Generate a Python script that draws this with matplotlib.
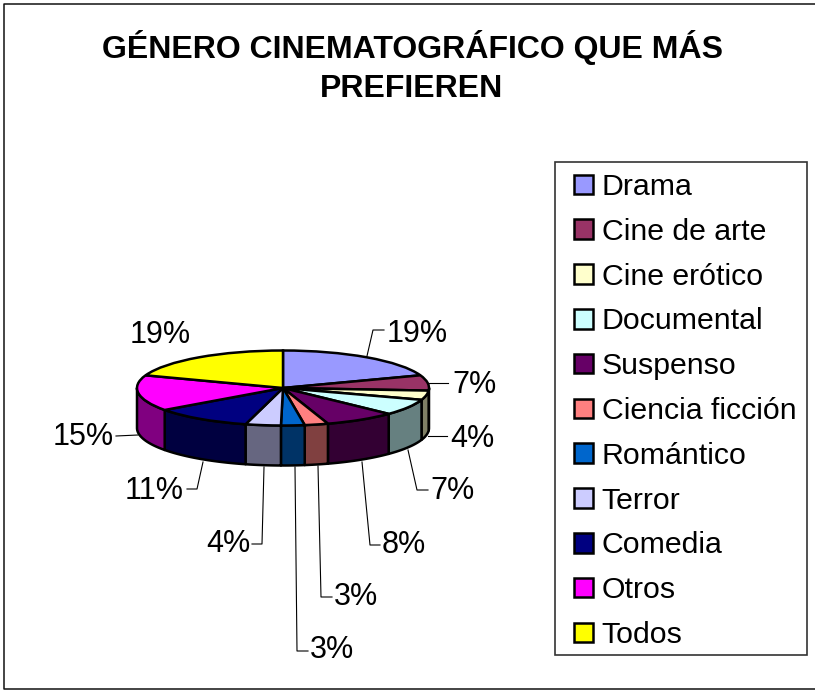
import numpy as np
import matplotlib
matplotlib.use('Agg')
import matplotlib.pyplot as plt
from matplotlib.colors import to_rgb
from matplotlib.patches import Rectangle

plt.rcParams['font.family'] = ['Liberation Sans', 'DejaVu Sans']

# datos
generos = ['Drama', 'Cine de arte', 'Cine erótico', 'Documental', 'Suspenso', 'Ciencia ficción',
           'Romántico', 'Terror', 'Comedia', 'Otros', 'Todos']
valores = [19.49, 6.6, 4.0, 7.0, 7.9, 2.6, 2.6, 3.9, 10.9, 15.45, 19.49]
colores = ['#9999FF', '#993366', '#FFFFCC', '#CCFFFF', '#660066', '#FF8080',
           '#0066CC', '#CCCCFF', '#000080', '#FF00FF', '#FFFF00']
titulo = 'GÉNERO CINEMATOGRÁFICO QUE MÁS\nPREFIEREN'

W, H = 815, 690
# geometria de la torta en pixeles
cx, cy, rx, ry, alto = 283, 388, 146, 37.5, 40
# posicion de cada etiqueta (px) y su linea guia
pos_etiquetas = [(417, 334), (474, 385), (472, 439), (452, 491), (404, 545), (356, 597),
                 (332, 650), (228, 544), (154, 491), (83, 437), (160, 335)]
guias = [[(367, 356), (373, 330), (384, 330)],
         [(428, 383), (448, 383)],
         [(428, 436), (447, 436)],
         [(408, 450), (417, 490), (428, 490)],
         [(362, 462), (370, 545), (380, 545)],
         [(318, 466), (321, 597), (332, 597)],
         [(295, 467), (297, 651), (308, 651)],
         [(264, 467), (262, 544), (252, 544)],
         [(203, 462), (197, 489), (187, 489)],
         [(138, 435), (116, 436)]]

fig = plt.figure(figsize=(W / 100, H / 100), dpi=100, facecolor='white')

# eje de la torta: una unidad = rx, ry pixeles, asi el circulo queda eliptico
ax = fig.add_axes([0, 0, 1, 1])
wedges, _ = ax.pie(valores, colors=colores, startangle=90, counterclock=False, radius=1,
                   wedgeprops={'edgecolor': 'black', 'linewidth': 1.8, 'zorder': 3})
ax.set_aspect('auto')
ax.set_xlim(-cx / rx, (W - cx) / rx)
ax.set_ylim((cy - H) / ry, cy / ry)
ax.axis('off')

# pared lateral, solo la mitad de adelante
fracc = np.cumsum([0] + valores) / sum(valores) * 2 * np.pi
d = alto / ry
for i in range(len(valores)):
    a0 = max(fracc[i], np.pi / 2)
    a1 = min(fracc[i + 1], 3 * np.pi / 2)
    if a1 <= a0:
        continue
    t = np.linspace(a0, a1, 40)
    x = np.sin(t)
    y = np.cos(t)
    oscuro = tuple(c * 0.5 for c in to_rgb(colores[i]))
    ax.fill(np.r_[x, x[::-1]], np.r_[y, y[::-1] - d], facecolor=oscuro, edgecolor='black',
            linewidth=1.8, zorder=2, joinstyle='round')

# capa en pixeles para texto y guias
capa = fig.add_axes([0, 0, 1, 1], facecolor='none')
capa.set_xlim(0, W)
capa.set_ylim(H, 0)
capa.axis('off')

# borde exterior: el lado derecho queda fuera de la imagen
capa.plot([817, 3.5, 3.5, 817], [3.5, 3.5, 688.5, 688.5], color='#111111', lw=1.1)

capa.text(412, 67, titulo, ha='center', va='center', fontsize=23, fontweight='bold',
          linespacing=1.42)

for v, (x, y) in zip(valores, pos_etiquetas):
    capa.text(x, y, '%.0f%%' % v, ha='center', va='center', fontsize=22)
for g in guias:
    capa.plot([p[0] for p in g], [p[1] for p in g], color='black', lw=0.8)

# marco de la leyenda aparte: el borde derecho es mas angosto que el izquierdo
capa.add_patch(Rectangle((555, 162), 252, 493, facecolor='white', edgecolor='#333333', lw=1.2, zorder=1))
ley = capa.legend(wedges, generos, loc='upper left', bbox_to_anchor=(574 / W, 1 - 173 / H),
                  bbox_transform=fig.transFigure, fontsize=21.8, frameon=False,
                  handlelength=0.62, handleheight=0.62, handletextpad=0.3,
                  labelspacing=0.555, borderpad=0, borderaxespad=0)

fig.savefig('out.png', dpi=100)
